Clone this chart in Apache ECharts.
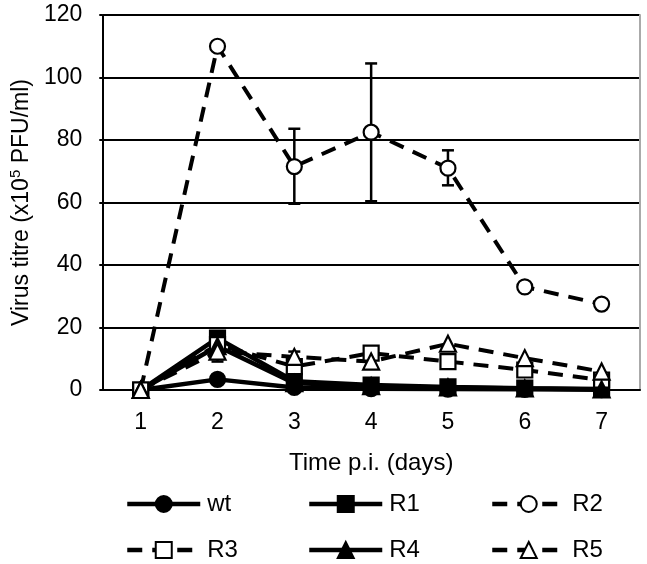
<!DOCTYPE html>
<html>
<head>
<meta charset="utf-8">
<script src="https://cdn.jsdelivr.net/npm/echarts@6/dist/echarts.min.js"></script>
<style>
html,body{margin:0;padding:0;background:#fff;}
#c{width:647px;height:564px;}
</style>
</head>
<body>
<div id="c"></div>
<script>
const days = ['1', '2', '3', '4', '5', '6', '7'];
const yTicks = [0, 20, 40, 60, 80, 100, 120];
const wt = [0, 3.4, 0.8, 0.4, 0.3, 0.2, 0.1];
const r1 = [0, 16.6, 2.8, 1.6, 1.0, 0.6, 0.3];
const r2 = [0, 110, 71.5, 82.5, 71, 33, 27.5];
const r3 = [0, 14.5, 7.5, 11.8, 9.1, 6.4, 3.2];
const r4 = [0, 14, 2.2, 1.2, 0.8, 0.5, 0.2];
const r5 = [0, 12.3, 10.6, 9.1, 14.8, 10.2, 5.9];
const r2ErrLow  = [null, null, 59.6, 60.4, 65.5, null, null];
const r2ErrHigh = [null, null, 83.6, 104.5, 76.7, null, null];
const r5ErrLow  = [null, 9.1, 8.9, null, null, null, null];
const r5ErrHigh = [null, 15.5, 12.3, null, null, null, null];

const FONT = 'Liberation Sans, Arial, sans-serif';
const dash = [15, 10];

function errData(lo, hi) {
  const out = [];
  for (let i = 0; i < lo.length; i++) {
    if (lo[i] != null) out.push([i, lo[i], hi[i]]);
  }
  return out;
}
function errSeries(lo, hi) {
  return {
    type: 'custom',
    z: 1,
    silent: true,
    data: errData(lo, hi),
    encode: { x: 0, y: [1, 2] },
    renderItem: function (params, api) {
      const x = api.value(0);
      const a = api.coord([x, api.value(1)]);
      const b = api.coord([x, api.value(2)]);
      const w = 6;
      const st = { stroke: '#000', lineWidth: 2.5 };
      return {
        type: 'group',
        children: [
          { type: 'line', shape: { x1: a[0], y1: a[1], x2: b[0], y2: b[1] }, style: st },
          { type: 'line', shape: { x1: a[0] - w, y1: a[1], x2: a[0] + w, y2: a[1] }, style: st },
          { type: 'line', shape: { x1: b[0] - w, y1: b[1], x2: b[0] + w, y2: b[1] }, style: st }
        ]
      };
    }
  };
}

function lineSeries(name, data, symbol, filled, dashed) {
  return {
    name: name,
    type: 'line',
    data: data,
    symbol: symbol,
    symbolSize: symbol === 'triangle' ? 16 : 15,
    z: 3,
    lineStyle: { color: '#000', width: dashed ? 4 : 4.5, type: dashed ? dash : 'solid' },
    itemStyle: { color: filled ? '#000' : '#fff', borderColor: '#000', borderWidth: 2.2 },
    emphasis: { disabled: true },
    animation: false
  };
}

const legendPos = [
  { name: 'wt', left: 125, top: 492 },
  { name: 'R1', left: 307, top: 492 },
  { name: 'R2', left: 490, top: 492 },
  { name: 'R3', left: 125, top: 538 },
  { name: 'R4', left: 307, top: 538 },
  { name: 'R5', left: 490, top: 538 }
];

const chart = echarts.init(document.getElementById('c'), null, { renderer: 'canvas' });
chart.setOption({
  animation: false,
  backgroundColor: '#fff',
  grid: { left: 101, right: 7, top: 15, bottom: 174, containLabel: false },
  legend: legendPos.map(p => ({
    data: [p.name],
    left: p.left,
    top: p.top,
    padding: 0,
    itemWidth: 73,
    itemHeight: 20,
    selectedMode: false,
    lineStyle: { width: 4.5 },
    textStyle: { fontFamily: FONT, fontSize: 24, color: '#000', padding: [0, 0, 0, 2] }
  })),
  xAxis: {
    type: 'category',
    data: days,
    boundaryGap: true,
    name: 'Time p.i. (days)',
    nameLocation: 'middle',
    nameGap: 61,
    nameTextStyle: { fontFamily: FONT, fontSize: 24, color: '#000' },
    axisLine: { lineStyle: { color: '#000', width: 2 } },
    axisTick: { show: false },
    axisLabel: { fontFamily: FONT, fontSize: 23, color: '#000', margin: 21 }
  },
  yAxis: [{
    type: 'value',
    min: yTicks[0],
    max: yTicks[yTicks.length - 1],
    interval: 20,
    name: '{t|Virus titre (x10}{s|5}{t| PFU/ml)}',
    nameLocation: 'middle',
    nameGap: 58,
    nameRotate: 90,
    nameTextStyle: {
      rich: {
        t: { fontFamily: FONT, fontSize: 23, color: '#000', lineHeight: 27 },
        s: { fontFamily: FONT, fontSize: 15, color: '#000', verticalAlign: 'top', lineHeight: 27 }
      }
    },
    axisLine: { show: true, lineStyle: { color: '#000', width: 2 } },
    axisTick: { show: true, length: 3, lineStyle: { color: '#000', width: 2 } },
    axisLabel: { fontFamily: FONT, fontSize: 23, color: '#000', margin: 20 },
    splitLine: { show: true, lineStyle: { color: '#000', width: 2 } }
  }, {
    type: 'value',
    position: 'right',
    min: 0, max: 120,
    axisLine: { show: true, lineStyle: { color: '#aaa', width: 2 } },
    axisTick: { show: false },
    axisLabel: { show: false },
    splitLine: { show: false }
  }],
  series: [
    errSeries(r2ErrLow, r2ErrHigh),
    errSeries(r5ErrLow, r5ErrHigh),
    lineSeries('wt', wt, 'circle', true, false),
    lineSeries('R1', r1, 'rect', true, false),
    lineSeries('R2', r2, 'circle', false, true),
    lineSeries('R3', r3, 'rect', false, true),
    lineSeries('R4', r4, 'triangle', true, false),
    lineSeries('R5', r5, 'triangle', false, true)
  ]
});
</script>
</body>
</html>
